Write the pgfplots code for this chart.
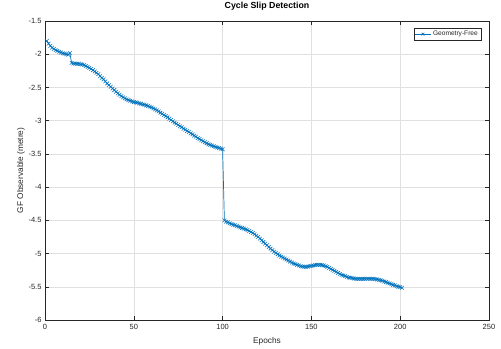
\documentclass[border=0pt]{standalone}
\usepackage{pgfplots}
\pgfplotsset{compat=1.18}
\usepackage{fontspec}
\setmainfont{Liberation Sans}
\definecolor{mblue}{rgb}{0,0.447,0.741}
\definecolor{axgray}{gray}{0.15}
\begin{document}
\begin{tikzpicture}
\begin{axis}[
  name=ax,
  scale only axis,
  width=444bp, height=299bp,
  xmin=0, xmax=250, ymin=-6, ymax=-1.5,
  xtick={0,50,100,150,200,250},
  ytick={-6,-5.5,-5,-4.5,-4,-3.5,-3,-2.5,-2,-1.5},
  /pgf/number format/assume math mode=true,
  yticklabel style={/pgf/number format/fixed},
  tick align=inside,
  major tick length=4bp,
  grid=major,
  major grid style={color=black!12, line width=0.5bp},
  axis line style={color=axgray, line width=0.5bp},
  tick style={color=axgray, line width=0.5bp},
  ticklabel style={font=\fontsize{7.5bp}{9bp}\selectfont, text=axgray},
  xticklabel style={yshift=-1bp},
  xlabel={Epochs},
  ylabel={GF Observable (metre)},
  every axis x label/.style={at={(axis description cs:0.5,-0.07)}, anchor=center, font=\fontsize{8.3bp}{10bp}\selectfont, text=axgray},
  every axis y label/.style={at={(axis description cs:-0.054,0.5)}, anchor=center, rotate=90, font=\fontsize{8.3bp}{10bp}\selectfont, text=axgray},
  title={\textbf{Cycle Slip Detection}},
  title style={font=\fontsize{8.8bp}{10bp}\selectfont, at={(axis description cs:0.5,1)}, anchor=center, yshift=9bp},
  legend style={at={(0.982,0.977)}, anchor=north east, font=\fontsize{6.6bp}{8bp}\selectfont, draw=axgray, line width=0.4bp, inner sep=1bp, row sep=0pt, text=axgray},
  legend cell align=left,
  legend image code/.code={\draw[mblue, line width=0.6bp] (0cm,0cm) -- (0.55cm,0cm); \draw[mblue, line width=0.6bp] plot[mark=x, mark size=2bp] coordinates {(0.275cm,0cm)};},
]
\addplot[color=mblue, line width=0.7bp, mark=x, mark size=2.6bp, mark options={line width=0.55bp}] table {
x y
1 -1.800
2 -1.840
3 -1.875
4 -1.900
5 -1.920
6 -1.938
7 -1.950
8 -1.962
9 -1.975
10 -1.985
11 -1.992
12 -2.000
13 -2.005
14 -1.985
15 -2.130
16 -2.140
17 -2.142
18 -2.145
19 -2.142
20 -2.150
21 -2.155
22 -2.165
23 -2.175
24 -2.190
25 -2.205
26 -2.220
27 -2.240
28 -2.260
29 -2.280
30 -2.300
31 -2.330
32 -2.355
33 -2.380
34 -2.410
35 -2.440
36 -2.465
37 -2.490
38 -2.515
39 -2.540
40 -2.565
41 -2.590
42 -2.610
43 -2.630
44 -2.650
45 -2.665
46 -2.680
47 -2.690
48 -2.700
49 -2.710
50 -2.720
51 -2.725
52 -2.730
53 -2.740
54 -2.745
55 -2.755
56 -2.760
57 -2.770
58 -2.780
59 -2.790
60 -2.800
61 -2.815
62 -2.830
63 -2.845
64 -2.860
65 -2.880
66 -2.895
67 -2.915
68 -2.930
69 -2.950
70 -2.970
71 -2.990
72 -3.010
73 -3.030
74 -3.045
75 -3.065
76 -3.085
77 -3.100
78 -3.120
79 -3.135
80 -3.155
81 -3.170
82 -3.190
83 -3.205
84 -3.225
85 -3.240
86 -3.260
87 -3.275
88 -3.295
89 -3.310
90 -3.325
91 -3.340
92 -3.355
93 -3.365
94 -3.375
95 -3.385
96 -3.395
97 -3.405
98 -3.410
99 -3.420
100 -3.430
101 -4.500
102 -4.520
103 -4.530
104 -4.545
105 -4.555
106 -4.565
107 -4.575
108 -4.585
109 -4.595
110 -4.605
111 -4.615
112 -4.625
113 -4.635
114 -4.645
115 -4.660
116 -4.675
117 -4.690
118 -4.710
119 -4.730
120 -4.750
121 -4.775
122 -4.800
123 -4.825
124 -4.850
125 -4.875
126 -4.900
127 -4.925
128 -4.950
129 -4.970
130 -4.990
131 -5.010
132 -5.030
133 -5.045
134 -5.060
135 -5.075
136 -5.090
137 -5.105
138 -5.120
139 -5.135
140 -5.150
141 -5.160
142 -5.170
143 -5.180
144 -5.190
145 -5.195
146 -5.200
147 -5.200
148 -5.195
149 -5.190
150 -5.185
151 -5.180
152 -5.175
153 -5.170
154 -5.170
155 -5.170
156 -5.175
157 -5.180
158 -5.190
159 -5.200
160 -5.215
161 -5.230
162 -5.245
163 -5.260
164 -5.275
165 -5.290
166 -5.305
167 -5.320
168 -5.330
169 -5.340
170 -5.350
171 -5.360
172 -5.365
173 -5.370
174 -5.375
175 -5.380
176 -5.380
177 -5.380
178 -5.380
179 -5.380
180 -5.380
181 -5.380
182 -5.380
183 -5.380
184 -5.380
185 -5.380
186 -5.385
187 -5.390
188 -5.395
189 -5.400
190 -5.410
191 -5.420
192 -5.430
193 -5.440
194 -5.450
195 -5.460
196 -5.470
197 -5.480
198 -5.490
199 -5.500
200 -5.505
201 -5.515
};
\addlegendentry{Geometry-Free}
\end{axis}
\pgfresetboundingbox
\path (ax.south west) ++(-45bp,-29bp) coordinate (bl);
\path (ax.north east) ++(12bp,21bp) coordinate (tr);
\path[use as bounding box] (bl) rectangle (tr);
\end{tikzpicture}
\end{document}
